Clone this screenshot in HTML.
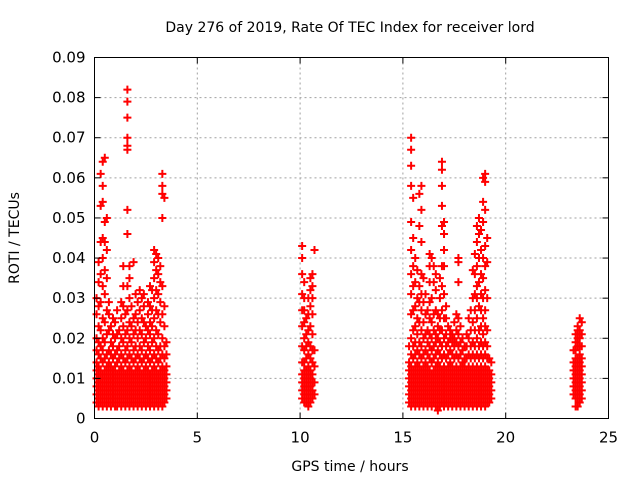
<!DOCTYPE html>
<html><head><meta charset="utf-8"><style>
html,body{margin:0;padding:0;background:#fff}
svg{display:block;font-family:"DejaVu Sans","Liberation Sans",sans-serif}
</style></head><body>
<svg id="chart" width="640" height="480" viewBox="0 0 640 480">
<rect x="0" y="0" width="640" height="480" fill="#fff"/>
<text x="350" y="32" font-size="14" text-anchor="middle" fill="#000">Day 276 of 2019, Rate Of TEC Index for receiver lord</text>
<text transform="translate(19,238) rotate(-90)" font-size="14" text-anchor="middle" fill="#000">ROTI / TECUs</text>
<text x="350" y="471" font-size="14" text-anchor="middle" fill="#000">GPS time / hours</text>
<g id="grid"></g><g id="marks"></g><g id="axes"></g>
</svg>
<script>
// data: x ticks, y ticks, times (hours), ROTI values per time (units of 0.001 TECU)
const xTicks=[0,5,10,15,20,25];
const yTicks=[0,0.01,0.02,0.03,0.04,0.05,0.06,0.07,0.08,0.09];
const yTickLabels=["0","0.01","0.02","0.03","0.04","0.05","0.06","0.07","0.08","0.09"];
const times=[0.1,0.2,0.3,0.4,0.5,0.6,0.7,0.8,0.9,1.0,1.1,1.2,1.3,1.4,1.5,1.6,1.7,1.8,1.9,2.0,2.1,2.2,2.3,2.4,2.5,2.6,2.7,2.8,2.9,3.0,3.1,3.2,3.3,3.4,3.5,
10.1,10.2,10.3,10.4,10.5,10.6,10.7,
15.3,15.4,15.5,15.6,15.7,15.8,15.9,16.0,16.1,16.2,16.3,16.4,16.5,16.6,16.7,16.8,16.9,17.0,17.1,17.2,17.3,17.4,17.5,17.6,17.7,17.8,17.9,18.0,18.1,18.2,18.3,18.4,18.5,18.6,18.7,18.8,18.9,19.0,19.1,19.2,19.3,
23.3,23.4,23.5,23.6,23.7];
const rotiValues=[
[4,6,8,10,12,14,17,20,26,30],
[3,5,7,9,11,13,16,19,23,28,34,39],
[4,6,8,10,12,15,18,22,29,36,44,53,61],
[3,5,7,9,11,14,17,20,25,33,40,45,54,58,64],
[4,6,8,10,12,15,19,24,31,37,44,49,65],
[3,5,7,9,11,13,16,21,27,35,42,50],
[4,6,8,10,12,14,17,22,26,29],
[3,5,7,9,11,13,16,19,23],
[4,6,8,10,12,15,18,21,25],
[3,5,7,9,11,13,16,20,24],
[3,5,7,9,11,14,17,21,27],
[4,6,8,10,12,15,18,22],
[3,5,7,9,11,13,16,20,25,29],
[4,6,8,10,12,15,19,23,28,33,38],
[3,5,7,9,11,14,17,21,26],
[4,6,8,10,12,15,18,22,27,33,46,52,67,68,70,75,79,82],
[3,5,7,9,11,13,16,20,24,30,35,38],
[4,6,8,10,12,15,19,23,28],
[3,5,7,9,11,14,17,21,25,39],
[4,6,8,10,12,15,18,22,26,31],
[3,5,7,9,11,13,16,20,24,29],
[4,6,8,10,12,15,18,22,27,32],
[3,5,7,9,11,14,17,21,25,30],
[4,6,8,10,12,15,19,24,28,31],
[3,5,7,9,11,13,16,20,23],
[4,6,8,10,12,15,18,22,26,29],
[3,5,7,9,11,14,17,21,24,28,33],
[4,6,8,10,12,15,19,23,27,32],
[3,5,7,9,11,13,16,20,25,30,35,39,42],
[4,6,8,10,12,15,18,22,27,32,37,41],
[3,5,7,9,11,14,17,21,26,31,36,40],
[4,6,8,10,12,15,18,24,29,34,38],
[3,5,7,9,11,13,16,20,26,33,50,56,58,61],
[4,6,8,10,12,15,18,23,28,55],
[5,7,9,11,13,16,19],
[5,7,9,11,14,18,23,27,31,36,40,43],
[4,6,8,10,12,14,17,20,24,27,30,34],
[4,6,8,10,12,15,18,21,25],
[3,5,7,9,11,13,16,19,22,26,30],
[4,6,8,10,12,15,18,23,28,32,35],
[5,7,9,11,14,17,21,26,30,33,36],
[6,9,13,17,42],
[4,6,8,10,12,14,18],
[3,5,7,9,11,13,16,20,26,31,36,42,49,58,63,67,70],
[4,6,8,10,12,15,18,22,27,33,38,45,55],
[3,5,7,9,11,13,16,19,23,28,34,40],
[4,6,8,10,12,14,17,21,25,30,37],
[3,5,7,9,11,13,16,19,24,29,33,48,56],
[4,6,8,10,12,15,18,22,27,31,36,44,52,58],
[3,5,7,9,11,13,16,20,24,29,35],
[4,6,8,10,12,14,17,21,26,31],
[3,5,7,9,11,13,16,19,22,27],
[4,6,8,10,12,15,18,21,25,29,34,38,41],
[3,5,7,9,11,14,17,20,24,30,40],
[4,6,8,10,12,15,18,22,26,34,38],
[3,5,7,9,11,13,16,19,21,27,32,36],
[2,4,6,8,10,12,14,17,20,23,26],
[3,5,7,9,11,13,16,19,22,25,30,35],
[4,6,8,10,12,15,18,22,27,33,38,48,53,58,62,64],
[3,5,7,9,11,13,16,20,25,31,38,42,46,49],
[4,6,8,10,12,15,18,21,25,28],
[3,5,7,9,11,13,16,19,23],
[4,6,8,10,12,14,17,20,22],
[3,5,7,9,11,13,16,19,21],
[4,6,8,10,12,15,18,20,24],
[3,5,7,9,11,13,16,19,22,26],
[4,6,8,10,12,15,18,21,25,34,39,40],
[3,5,7,9,11,13,16,19,23],
[4,6,8,10,12,14,17,20],
[3,5,7,9,11,13,15,18],
[4,6,8,10,12,15,18,21],
[3,5,7,9,11,13,16,20,25],
[4,6,8,10,12,15,18,22,27],
[3,5,7,9,11,13,16,19,24,30,37],
[4,6,8,10,12,15,18,22,27,31,36,41],
[3,5,7,9,11,13,16,20,25,30,33,38,44,48],
[4,6,8,10,12,15,18,22,28,34,40,46,50],
[3,5,7,9,11,13,16,19,23,27,31,36,42,47],
[4,6,8,10,12,15,18,21,25,30,35,40,49,54,60],
[3,5,7,9,11,13,16,19,23,27,32,38,43,52,59,61],
[4,6,8,10,12,15,18,22,30,39,45],
[4,6,8,10,12,15],
[5,7,9,11,14],
[6,8,10,12,14,17],
[3,5,7,9,11,13,15,17,19,21],
[3,5,7,9,11,13,15,18,20,22,23],
[4,6,8,10,12,14,16,18,20,22,25],
[5,7,9,11,13,15,18,21,24]
];
const NS="http://www.w3.org/2000/svg";
const L=94.5,R=608.5,T=57.5,B=418.5;
function xs(v){return L+(v-0)/(25-0)*(R-L);}
function ys(v){return B-(v-0)/(0.09-0)*(B-T);}
function mk(tag,attrs,parent){const e=document.createElementNS(NS,tag);for(const k in attrs)e.setAttribute(k,attrs[k]);parent.appendChild(e);return e;}
const grid=document.getElementById('grid'),axes=document.getElementById('axes'),marks=document.getElementById('marks');
xTicks.forEach((t,i)=>{
  const x=xs(t);
  if(i>0&&i<xTicks.length-1){const g=mk('line',{x1:x,y1:T,x2:x,y2:B,stroke:'#a0a0a0','stroke-dasharray':'2,3'},grid);
  
  }
  mk('line',{x1:x,y1:B,x2:x,y2:B-6,stroke:'#000'},axes);
  mk('line',{x1:x,y1:T,x2:x,y2:T+6,stroke:'#000'},axes);
  const lb=mk('text',{x:x,y:B+24,'font-size':15,'text-anchor':'middle',fill:'#000'},axes);
  lb.textContent=String(t);
  
  
});
yTicks.forEach((t,i)=>{
  const y=ys(t);
  if(i>0&&i<yTicks.length-1){const g=mk('line',{x1:L,y1:y,x2:R,y2:y,stroke:'#a0a0a0','stroke-dasharray':'2,3'},grid);
  
  }
  mk('line',{x1:L,y1:y,x2:L+6,y2:y,stroke:'#000'},axes);
  mk('line',{x1:R,y1:y,x2:R-6,y2:y,stroke:'#000'},axes);
  const lb=mk('text',{x:L-9,y:y+5,'font-size':15,'text-anchor':'end',fill:'#000'},axes);
  lb.textContent=yTickLabels[i];
  
  
});
const frame=mk('rect',{x:L,y:T,width:R-L,height:B-T,fill:'none',stroke:'#000','stroke-width':1},axes);


let d='';
times.forEach((t,i)=>{
  const x=xs(t);
  rotiValues[i].forEach(v=>{
    const y=ys(v/1000);
    d+='M'+(x-4)+' '+y+'h8M'+x+' '+(y-4)+'v8';
  });
});
const p=mk('path',{d:d,stroke:'#ff0000','stroke-width':2,fill:'none'},marks);


</script>
</body></html>
